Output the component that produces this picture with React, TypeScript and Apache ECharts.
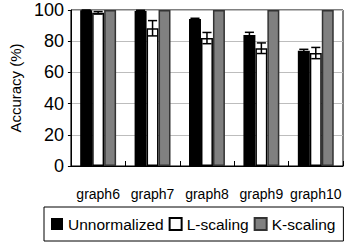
import React, { useEffect, useRef } from "react";
import * as echarts from "echarts";

const categories = ["graph6", "graph7", "graph8", "graph9", "graph10"];
const unnormalized = [99.8, 99.4, 94.2, 84.0, 73.9];
const unnormalizedErr = [0.3, 0.4, 0.5, 1.7, 0.9];
const lScaling = [98.2, 88.3, 82.0, 75.5, 72.4];
const lScalingErr = [0.8, 4.9, 3.6, 3.4, 3.6];
const kScaling = [100, 100, 100, 100, 100];
const yTicks = [0, 20, 40, 60, 80, 100];

const FONT = "Liberation Sans, Arial, sans-serif";

function errorSeries(name: string, vals: number[], errs: number[], slot: number) {
  return {
    type: "custom",
    name,
    z: 10,
    silent: true,
    encode: { x: 0, y: 1 },
    data: vals.map((v, i) => [i, v, errs[i]]),
    renderItem: (params: any, api: any) => {
      const i = api.value(0);
      const v = api.value(1);
      const e = api.value(2);
      const band = api.size([1, 0])[0];
      const bw = band * 0.22;
      const c = api.coord([i, v]);
      const x = c[0] + slot * bw;
      const hi = api.coord([i, Math.min(100, v + e)])[1];
      const lo = api.coord([i, v - e])[1];
      const half = bw * 0.38;
      const style = { stroke: "#000", lineWidth: 1.5 };
      return {
        type: "group",
        children: [
          { type: "line", shape: { x1: x, y1: hi, x2: x, y2: lo }, style },
          { type: "line", shape: { x1: x - half, y1: hi, x2: x + half, y2: hi }, style },
          { type: "line", shape: { x1: x - half, y1: lo, x2: x + half, y2: lo }, style },
        ],
      };
    },
  };
}

export default function App() {
  const ref = useRef<HTMLDivElement>(null);
  useEffect(() => {
    if (!ref.current) return;
    const chart = echarts.init(ref.current, null, { renderer: "svg" });
    chart.setOption({
      animation: false,
      backgroundColor: "#fff",
      textStyle: { fontFamily: FONT },
      grid: {
        left: 60,
        right: 3,
        top: 10,
        bottom: 80,
        show: true,
        borderColor: "#000",
        borderWidth: 1,
        backgroundColor: "#fff",
      },
      legend: {
        data: ["Unnormalized", "L-scaling", "K-scaling"],
        left: 44,
        top: 207,
        width: 300,
        padding: [9, 8, 9, 7],
        borderColor: "#000",
        borderWidth: 1,
        itemWidth: 12,
        itemHeight: 12,
        itemGap: 5,
        icon: "rect",
        textStyle: { fontSize: 15.5, color: "#000", fontFamily: FONT },
      },
      xAxis: {
        type: "category",
        data: categories,
        axisLine: { lineStyle: { color: "#000", width: 1 } },
        axisTick: { show: true, inside: true, length: 5, lineStyle: { color: "#000" } },
        axisLabel: { color: "#000", fontSize: 14, margin: 21, interval: 0, fontFamily: FONT },
      },
      yAxis: {
        type: "value",
        min: 0,
        max: 100,
        interval: 20,
        name: "Accuracy (%)",
        nameLocation: "middle",
        nameGap: 45,
        nameTextStyle: { fontSize: 15, color: "#000", fontFamily: FONT },
        axisLine: { show: true, lineStyle: { color: "#000" } },
        axisTick: { show: true, length: 3, lineStyle: { color: "#000" } },
        axisLabel: {
          color: "#000",
          fontSize: 18,
          margin: 7,
          fontFamily: FONT,
          formatter: (v: number) => (yTicks.includes(v) ? String(v) : ""),
        },
        splitLine: { show: true, lineStyle: { color: "#bdbdbd", width: 1 } },
      },
      series: [
        {
          type: "bar",
          name: "Unnormalized",
          data: unnormalized,
          barWidth: "22%",
          barGap: "0%",
          itemStyle: { color: "#000", borderColor: "#000", borderWidth: 0 },
        },
        {
          type: "bar",
          name: "L-scaling",
          data: lScaling,
          barWidth: "22%",
          barGap: "0%",
          itemStyle: { color: "#fff", borderColor: "#000", borderWidth: 1.5 },
        },
        {
          type: "bar",
          name: "K-scaling",
          data: kScaling,
          barWidth: "22%",
          barGap: "0%",
          itemStyle: { color: "#808080", borderColor: "#333", borderWidth: 1.5 },
        },
        errorSeries("errU", unnormalized, unnormalizedErr, -1),
        errorSeries("errL", lScaling, lScalingErr, 0),
      ],
    });
    return () => chart.dispose();
  }, []);
  return <div ref={ref} style={{ width: 346, height: 246, position: "absolute", left: 0, top: 0 }} />;
}
